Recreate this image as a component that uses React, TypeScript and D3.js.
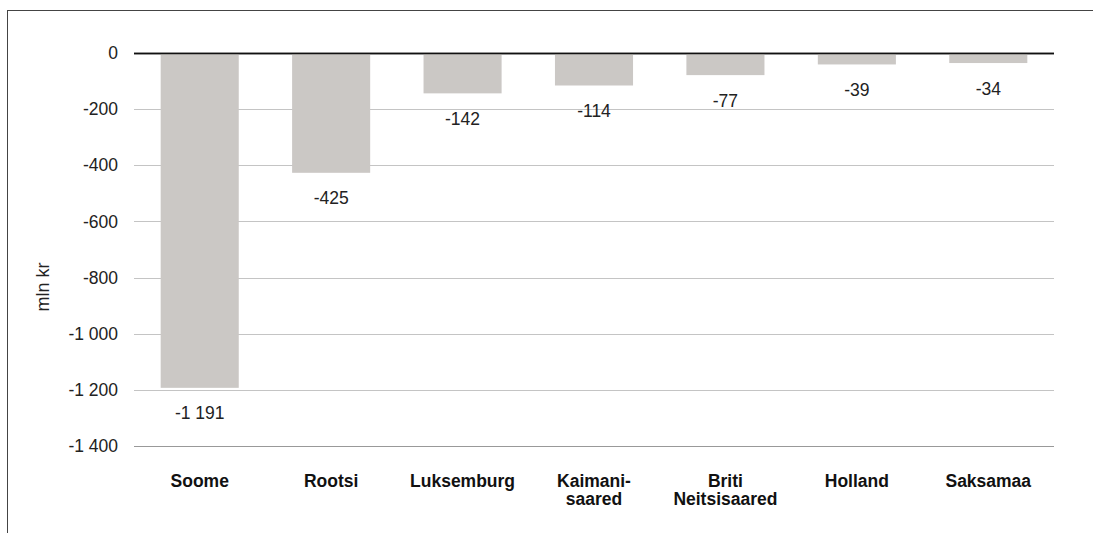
import { useEffect, useRef } from 'react'
import * as d3 from 'd3'

const categories = ['Soome', 'Rootsi', 'Luksemburg', 'Kaimani-\nsaared', 'Briti\nNeitsisaared', 'Holland', 'Saksamaa']
const values = [-1191, -425, -142, -114, -77, -39, -34]
const yTicks = [0, -200, -400, -600, -800, -1000, -1200, -1400]

const fmt = (v: number) => {
  const s = d3.format(',')(v)
  return s.replace(/,/g, ' ').replace('−', '-')
}

export default function App() {
  const svgRef = useRef<SVGSVGElement>(null)

  useEffect(() => {
    if (!svgRef.current) return
    const W = 1093
    const H = 533
    const margin = { top: 53, right: 39, left: 134 }
    const plotBottom = 446

    const root = d3.select(svgRef.current)
    root.selectAll('*').remove()
    root.attr('width', W).attr('height', H)

    const font = 'Liberation Sans, Arial, Helvetica, sans-serif'
    const fs = 17.5

    // frame lines
    root.append('line')
      .attr('x1', 7.5).attr('x2', W).attr('y1', 10.5).attr('y2', 10.5)
      .attr('stroke', '#444').attr('stroke-width', 1)
    root.append('line')
      .attr('x1', 7.5).attr('x2', 7.5).attr('y1', 10).attr('y2', H)
      .attr('stroke', '#444').attr('stroke-width', 1)

    const x = d3.scaleBand()
      .domain(categories)
      .range([margin.left, W - margin.right])
      .paddingInner(0.406)
      .paddingOuter(0.203)

    const y = d3.scaleLinear()
      .domain([0, -1400])
      .range([margin.top, plotBottom])

    // gridlines
    root.append('g')
      .selectAll('line')
      .data(yTicks)
      .join('line')
      .attr('x1', margin.left)
      .attr('x2', W - margin.right)
      .attr('y1', d => Math.round(y(d)) + 0.5)
      .attr('y2', d => Math.round(y(d)) + 0.5)
      .attr('stroke', d => d === 0 ? '#111' : d === -1400 ? '#999' : '#c4c4c4')
      .attr('stroke-width', d => d === 0 ? 1.3 : 1.2)

    // y tick labels
    root.append('g')
      .selectAll('text')
      .data(yTicks)
      .join('text')
      .attr('x', 118)
      .attr('y', d => y(d))
      .attr('dy', '0.35em')
      .attr('text-anchor', 'end')
      .attr('font-family', font)
      .attr('font-size', fs)
      .attr('fill', '#222')
      .text(d => fmt(d))

    // y axis title
    root.append('text')
      .attr('transform', `translate(43,287) rotate(-90)`)
      .attr('dy', '0.35em')
      .attr('text-anchor', 'middle')
      .attr('font-family', font)
      .attr('font-size', 18)
      .attr('fill', '#222')
      .text('mln kr')

    // bars
    root.append('g')
      .selectAll('rect')
      .data(values)
      .join('rect')
      .attr('x', (_, i) => x(categories[i]) || 0)
      .attr('width', x.bandwidth())
      .attr('y', y(0) + 0.5)
      .attr('height', d => y(d) - y(0))
      .attr('fill', '#cbc8c5')

    // redraw zero line on top
    root.append('line')
      .attr('x1', margin.left)
      .attr('x2', W - margin.right)
      .attr('y1', Math.round(y(0)) + 0.5)
      .attr('y2', Math.round(y(0)) + 0.5)
      .attr('stroke', '#111')
      .attr('stroke-width', 1.3)

    // value labels
    root.append('g')
      .selectAll('text')
      .data(values)
      .join('text')
      .attr('x', (_, i) => (x(categories[i]) || 0) + x.bandwidth() / 2)
      .attr('y', d => y(d) + 26)
      .attr('dy', '0.35em')
      .attr('text-anchor', 'middle')
      .attr('font-family', font)
      .attr('font-size', fs)
      .attr('fill', '#222')
      .text(d => fmt(d))

    // category labels
    const cat = root.append('g')
      .selectAll('text')
      .data(categories)
      .join('text')
      .attr('x', d => (x(d) || 0) + x.bandwidth() / 2)
      .attr('y', 480.5)
      .attr('text-anchor', 'middle')
      .attr('font-family', font)
      .attr('font-size', fs)
      .attr('font-weight', 'bold')
      .attr('fill', '#111')
    cat.each(function (d) {
      const lines = d.split('\n')
      const t = d3.select(this)
      lines.forEach((ln, i) => {
        t.append('tspan')
          .attr('x', (x(d) || 0) + x.bandwidth() / 2)
          .attr('dy', i === 0 ? '0.35em' : 18.5)
          .text(ln)
      })
    })
  }, [])

  return (
    <div style={{ position: 'absolute', left: 0, top: 0 }}>
      <svg ref={svgRef} style={{ display: 'block' }}></svg>
    </div>
  )
}
